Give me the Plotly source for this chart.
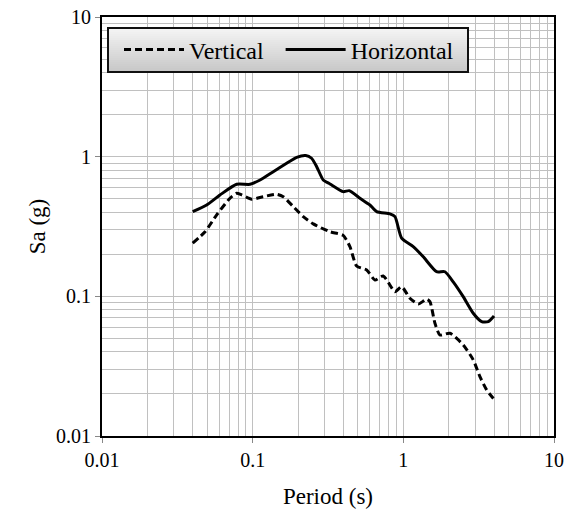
import plotly.graph_objects as go

# Horizontal spectrum
period_h = [0.040, 0.0495, 0.0607, 0.0783, 0.0960, 0.112, 0.137, 0.168, 0.196, 0.225,
            0.246, 0.266, 0.294, 0.326, 0.399, 0.4375, 0.515, 0.600, 0.665, 0.815,
            0.880, 0.974, 1.163, 1.356, 1.663, 1.888, 2.143, 2.497, 2.910, 3.31, 3.66, 4.0]
sa_h = [0.404, 0.451, 0.532, 0.634, 0.634, 0.681, 0.781, 0.897, 0.99, 1.02,
        0.974, 0.848, 0.681, 0.638, 0.562, 0.571, 0.504, 0.451, 0.404, 0.389,
        0.372, 0.261, 0.227, 0.192, 0.150, 0.150, 0.127, 0.0995, 0.0757, 0.0659, 0.0659, 0.0724]

# Vertical spectrum
period_v = [0.040, 0.0483, 0.0577, 0.0707, 0.0783, 0.0845, 0.0985, 0.1176, 0.1443, 0.1596,
            0.186, 0.2167, 0.2524, 0.326, 0.399, 0.442, 0.490, 0.571, 0.648, 0.736,
            0.880, 0.974, 1.106, 1.256, 1.428, 1.501, 1.621, 1.749, 2.038, 2.497,
            2.910, 3.224, 3.571, 4.0]
sa_v = [0.240, 0.290, 0.383, 0.504, 0.547, 0.532, 0.496, 0.517, 0.538, 0.517,
        0.439, 0.372, 0.330, 0.290, 0.273, 0.227, 0.165, 0.1545, 0.131, 0.140,
        0.108, 0.1173, 0.0969, 0.0882, 0.0953, 0.0917, 0.0642, 0.0529, 0.0544, 0.0449,
        0.0351, 0.0266, 0.0214, 0.0183]

series_names = ["Vertical", "Horizontal"]

tick_vals = [0.01, 0.1, 1, 10]
tick_text = ["0.01", "0.1", "1", "10"]

FONT = "Liberation Serif"

fig = go.Figure()
fig.add_trace(go.Scatter(x=period_v, y=sa_v, mode="lines", name=series_names[0] + "\u00a0\u00a0",
                         line=dict(color="black", width=3, dash="7px,4px", shape="spline", smoothing=0.6)))
fig.add_trace(go.Scatter(x=period_h, y=sa_h, mode="lines", name=series_names[1],
                         line=dict(color="black", width=3, shape="spline", smoothing=0.6)))

axis_common = dict(
    type="log", range=[-2, 1], automargin=False,
    tickvals=tick_vals, ticktext=tick_text,
    showgrid=True, gridcolor="#c0c0c0", gridwidth=1,
    minor=dict(dtick="D1", showgrid=True, gridcolor="#c0c0c0", gridwidth=1, ticks=""),
    showline=True, linecolor="black", linewidth=2, mirror=True,
    ticks="outside", ticklen=5, tickcolor="#888888", tickwidth=1,
    tickfont=dict(family=FONT, size=20, color="black"),
    zeroline=False,
)

fig.update_xaxes(**axis_common,
                 title=dict(text="Period (s)", font=dict(family=FONT, size=23, color="black")))
fig.update_yaxes(**axis_common,
                 title=dict(text="Sa (g)", font=dict(family=FONT, size=23, color="black")))

# Legend box with vertical gradient (drawn as shapes in paper coordinates)
L, T, W, H = 102, 17, 452, 419   # plot area in px
def px_x(p):
    return (p - L) / W
def px_y(p):
    return (T + H - p) / H

box_l, box_r, box_t, box_b = 108, 468, 28, 72
n_strips = 22
shapes = []
for i in range(n_strips):
    y0 = box_t + (box_b - box_t) * i / n_strips
    y1 = box_t + (box_b - box_t) * (i + 1) / n_strips
    f = i / (n_strips - 1)
    c = int(round(244 - f * (244 - 200)))
    shapes.append(dict(type="rect", xref="paper", yref="paper",
                       x0=px_x(box_l), x1=px_x(box_r), y0=px_y(y1), y1=px_y(y0),
                       fillcolor=f"rgb({c},{c},{c})", line=dict(width=0), layer="above"))
shapes.append(dict(type="rect", xref="paper", yref="paper",
                   x0=px_x(box_l), x1=px_x(box_r), y0=px_y(box_b), y1=px_y(box_t),
                   fillcolor="rgba(0,0,0,0)", line=dict(color="#111111", width=2), layer="above"))

fig.update_layout(
    template="none",
    width=566, height=509,
    margin=dict(l=102, r=12, t=17, b=73),
    paper_bgcolor="white", plot_bgcolor="white",
    font=dict(family=FONT, color="black"),
    shapes=shapes,
    showlegend=True,
    legend=dict(orientation="h", x=px_x(119), y=px_y(50), xanchor="left", yanchor="middle",
                bgcolor="rgba(0,0,0,0)", borderwidth=0,
                font=dict(family=FONT, size=24, color="black"),
                itemwidth=60),
)

fig.write_html("out.html", config={"displayModeBar": False},
               post_script="document.body.style.margin='0';document.body.style.overflow='hidden';")
